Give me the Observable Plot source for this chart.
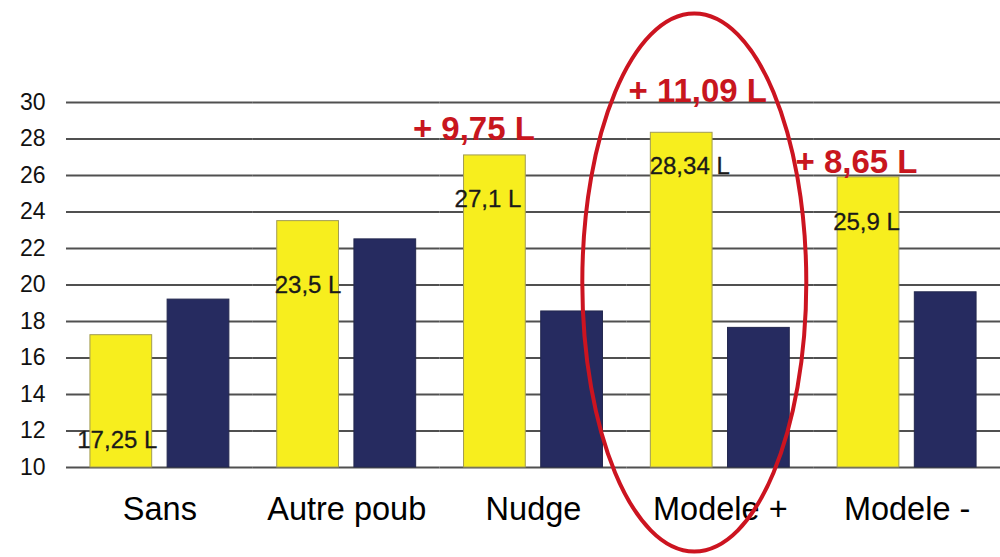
<!DOCTYPE html>
<html>
<head>
<meta charset="utf-8">
<script src="https://cdn.jsdelivr.net/npm/d3@7"></script>
<script src="https://cdn.jsdelivr.net/npm/@observablehq/plot@0.6"></script>
<style>
  html, body { margin: 0; padding: 0; background: #fff; }
</style>
</head>
<body>
<div id="chart"></div>
<script>
// ---- Data ----
const categories = ["Sans", "Autre poub", "Nudge", "Modele +", "Modele -"];
const series = ["jaune", "bleu"];
const yellowValues = [17.25, 23.5, 27.1, 28.34, 25.9];
const navyValues = [19.2, 22.5, 18.55, 17.65, 19.6];
const yellowLabels = ["17,25 L", "23,5 L", "27,1 L", "28,34 L", "25,9 L"];
const yellowLabelLevels = [11.5, 20.0, 24.67, 26.5, 23.46];
const gainCategories = ["Nudge", "Modele +", "Modele -"];
const gainLabels = ["+ 9,75 L", "+ 11,09 L", "+ 8,65 L"];
const gainLevels = [28.5, 30.6, 26.7];
const yTicks = [10, 12, 14, 16, 18, 20, 22, 24, 26, 28, 30];
const highlightedCategory = "Modele +";
const highlightLevel = 20.14;

// ---- Tables built from the arrays ----
const rows = categories.flatMap((c, i) => [
  {cat: c, series: "jaune", value: yellowValues[i], label: yellowLabels[i], level: yellowLabelLevels[i]},
  {cat: c, series: "bleu", value: navyValues[i]}
]);
const yellowRows = rows.filter(d => d.series === "jaune");
const navyRows = rows.filter(d => d.series === "bleu");
const gains = gainCategories.map((c, i) => ({cat: c, series: "jaune", level: gainLevels[i], label: gainLabels[i]}));
const gainDx = [-21, 16, -12];
const labelDx = [-4, 0, -7, 8, -2];

// ellipse outline used as a custom dot symbol
const ellipseSymbol = {
  draw(ctx) {
    const rx = 112, ry = 269, k = 0.5523;
    ctx.moveTo(rx, 0);
    ctx.bezierCurveTo(rx, k * ry, k * rx, ry, 0, ry);
    ctx.bezierCurveTo(-k * rx, ry, -rx, k * ry, -rx, 0);
    ctx.bezierCurveTo(-rx, -k * ry, -k * rx, -ry, 0, -ry);
    ctx.bezierCurveTo(k * rx, -ry, rx, -k * ry, rx, 0);
    ctx.closePath();
  }
};

const chart = Plot.plot({
  width: 1000,
  height: 557,
  marginLeft: 66,
  marginRight: 0,
  marginTop: 102,
  marginBottom: 90,
  style: {fontFamily: "'Liberation Sans', Arial, sans-serif", background: "#fff", overflow: "visible"},
  fx: {domain: categories, padding: 0, round: false, label: null},
  x: {domain: series, paddingInner: 0.2, paddingOuter: 0.31, round: false, axis: null},
  y: {domain: [yTicks[0], yTicks[yTicks.length - 1]], axis: null},
  marks: [
    Plot.gridY(yTicks, {stroke: "#505050", strokeOpacity: 1, strokeWidth: 2}),
    Plot.axisY(yTicks, {anchor: "left", tickSize: 0, tickPadding: 21, fontSize: 23, fill: "#111", label: null, tickFormat: d => String(d)}),
    Plot.barY(yellowRows, {fx: "cat", x: "series", y1: yTicks[0], y2: "value", fill: "#f7ee1e", stroke: "#a19b55", strokeWidth: 1}),
    Plot.barY(navyRows, {fx: "cat", x: "series", y1: yTicks[0], y2: "value", fill: "#262b60", stroke: "#23284f", strokeWidth: 1}),
    ...yellowRows.map((r, i) => Plot.text([r], {fx: "cat", x: "series", y: "level", text: "label", dx: labelDx[i], fontSize: 24, fill: "#1a1a1a", stroke: "#1a1a1a", strokeWidth: 0.3})),
    ...gains.map((g, i) => Plot.text([g], {fx: "cat", x: "series", y: "level", text: "label", dx: gainDx[i], fontSize: 33, fontWeight: "bold", fill: "#c8161e"})),
    Plot.axisFx({anchor: "bottom", tickSize: 0, tickPadding: 29, fontSize: 32.5, fill: "#000", label: null}),
    Plot.dot([{cat: highlightedCategory, level: highlightLevel}], {fx: "cat", y: "level", r: 1, symbol: ellipseSymbol, fill: "none", stroke: "#cc1420", strokeWidth: 4, dx: -26})
  ]
});
document.getElementById("chart").appendChild(chart);
</script>
</body>
</html>
